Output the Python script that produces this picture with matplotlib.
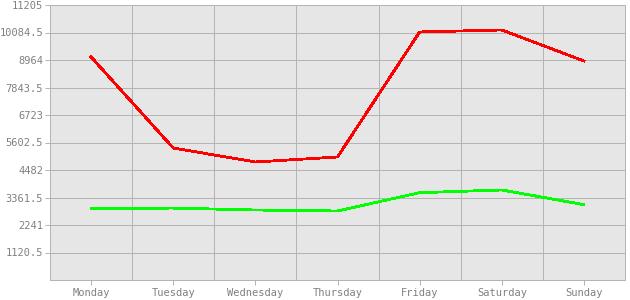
import numpy as np
import matplotlib
matplotlib.use('Agg')
from matplotlib import pyplot as plt

days = ['Monday', 'Tuesday', 'Wednesday', 'Thursday', 'Friday', 'Saturday', 'Sunday']
red_values = [9087, 5379, 4808, 5012, 10106, 10188, 8924]
green_values = [2922, 2930, 2852, 2812, 3558, 3668, 3070]
y_ticks = [1120.5, 2241, 3361.5, 4482, 5602.5, 6723, 7843.5, 8964, 10084.5, 11205]
y_labels = ['1120.5', '2241', '3361.5', '4482', '5602.5', '6723', '7843.5', '8964', '10084.5', '11205']

grid_col = '#b4b4b4'
text_col = '#808080'

fig = plt.figure(figsize=(6.3, 3.0), dpi=100)
ax = fig.add_axes([50 / 630, 20 / 300, 575 / 630, 275 / 300])
ax.set_facecolor('#e6e6e6')

x = np.arange(len(days))
ax.plot(x, red_values, color='#ff0000', linewidth=1.3, antialiased=False, zorder=3)
ax.plot(x, green_values, color='#00ff00', linewidth=1.3, antialiased=False, zorder=3)

ax.set_xlim(-0.5, len(days) - 0.5)
ax.set_ylim(0, 11205)

ax.set_xticks(x)
ax.set_xticklabels(days)
ax.set_xticks(np.arange(0.5, len(days) - 1, 1), minor=True)
ax.set_yticks(y_ticks)
ax.set_yticklabels(y_labels)

ax.grid(True, which='major', axis='y', color=grid_col, linewidth=0.72, antialiased=False)
ax.grid(True, which='minor', axis='x', color=grid_col, linewidth=0.72, antialiased=False)
ax.set_axisbelow(True)

ax.tick_params(axis='both', which='major', colors=grid_col, labelcolor=text_col,
               labelsize=7.5, length=3.5, width=0.72)
ax.tick_params(axis='x', which='minor', length=0)
ax.tick_params(axis='y', pad=1.5)
ax.tick_params(axis='x', pad=2)
for lbl in ax.get_xticklabels() + ax.get_yticklabels():
    lbl.set_fontfamily('DejaVu Sans Mono')

for s in ax.spines.values():
    s.set_color(grid_col)
    s.set_linewidth(0.72)

fig.savefig('out.png', dpi=100, facecolor='white')
